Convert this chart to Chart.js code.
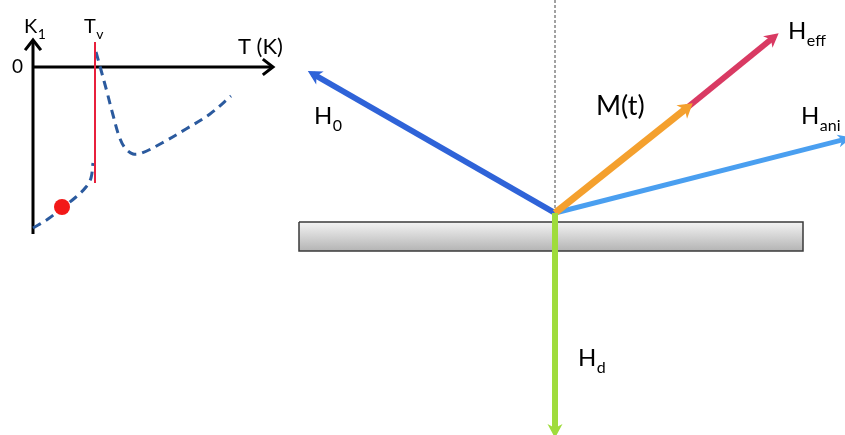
<!DOCTYPE html>
<html>
<head>
<meta charset="utf-8">
<script src="https://cdn.jsdelivr.net/npm/chart.js@4"></script>
<style>
  html, body { margin: 0; padding: 0; background: #fff; }
  #wrap { width: 845px; height: 435px; }
</style>
</head>
<body>
<div id="wrap"><canvas id="diagram" width="845" height="435"></canvas></div>
<script>
// diagram units: same frame as the picture (x right, y down)
const origin = {x: 555, y: 213};
const h0Tip = {x: 313, y: 74};
const mTip = {x: 688, y: 107};
const heffTip = {x: 774, y: 37};
const haniTip = {x: 846, y: 139};
const hdTip = {x: 555, y: 432};
const normalLine = [{x: 555, y: 0}, {x: 555, y: 213}];
const substrate = [{x: 299, y: 222}, {x: 803, y: 222}, {x: 803, y: 251}, {x: 299, y: 251}, {x: 299, y: 222}];

// inset K1(T) sketch
const kAxis = [{x: 33, y: 234}, {x: 33, y: 40}];
const tAxis = [{x: 33, y: 67}, {x: 273, y: 67}];
const tvLine = [{x: 95, y: 42}, {x: 95, y: 183}];
const kBelowTv = [{x: 33, y: 228}, {x: 48, y: 219}, {x: 62, y: 208}, {x: 76, y: 197}, {x: 86, y: 187}, {x: 91, y: 178}, {x: 93, y: 163}];
const kAboveTv = [{x: 96, y: 52}, {x: 101, y: 70}, {x: 107, y: 92}, {x: 113, y: 115}, {x: 119, y: 136}, {x: 125, y: 148}, {x: 133, y: 154}, {x: 142, y: 153}, {x: 162, y: 143}, {x: 186, y: 129}, {x: 210, y: 114}, {x: 231, y: 96}];
const dotPoint = [{x: 62, y: 207}];

// text: [main, sub, x, y, size]
const labels = [
  ["K", "1", 24, 33, 20],
  ["0", "", 12, 73, 19],
  ["T", "v", 84, 33, 20],
  ["T (K)", "", 238, 54, 22],
  ["H", "0", 314, 124, 24],
  ["M(t)", "", 596, 115, 27],
  ["H", "eff", 788, 39, 24],
  ["H", "ani", 801, 124, 24],
  ["H", "d", 578, 366, 24]
];

const FONT = "Lato, 'Open Sans', sans-serif";

function seg(a, b) { return [a, b]; }

function arrowSet(label, pts, color, width, order) {
  return {
    label: label, data: pts, showLine: true, pointRadius: 0,
    borderColor: color, backgroundColor: color, borderWidth: width,
    borderCapStyle: 'butt', order: order, arrow: 'solid'
  };
}

const arrowPlugin = {
  id: 'arrowHeads',
  afterDatasetsDraw(chart) {
    const c = chart.ctx;
    chart.data.datasets.forEach((ds, i) => {
      if (!ds.arrow) return;
      const pts = chart.getDatasetMeta(i).data;
      const a = pts[pts.length - 2], b = pts[pts.length - 1];
      const len = Math.hypot(b.x - a.x, b.y - a.y);
      const ux = (b.x - a.x) / len, uy = (b.y - a.y) / len;
      c.save();
      if (ds.arrow === 'solid') {
        const tx = b.x + ux * 6, ty = b.y + uy * 6;
        const bx = b.x - ux * 8, by = b.y - uy * 8;
        const w = ds.borderWidth + 1.5;
        c.fillStyle = ds.borderColor;
        c.beginPath();
        c.moveTo(tx, ty);
        c.lineTo(bx - uy * w, by + ux * w);
        c.lineTo(b.x - ux * 4, b.y - uy * 4);
        c.lineTo(bx + uy * w, by - ux * w);
        c.closePath();
        c.fill();
      } else {
        c.strokeStyle = ds.borderColor;
        c.lineWidth = ds.borderWidth;
        c.lineCap = 'square';
        c.beginPath();
        c.moveTo(b.x - ux * 9 - uy * 7, b.y - uy * 9 + ux * 7);
        c.lineTo(b.x, b.y);
        c.lineTo(b.x - ux * 9 + uy * 7, b.y - uy * 9 - ux * 7);
        c.stroke();
      }
      c.restore();
    });
  }
};

const textPlugin = {
  id: 'diagramText',
  afterDraw(chart) {
    const c = chart.ctx, sx = chart.scales.x, sy = chart.scales.y;
    c.save();
    c.fillStyle = '#000';
    c.textBaseline = 'alphabetic';
    labels.forEach(([main, sub, x, y, size]) => {
      const px = sx.getPixelForValue(x), py = sy.getPixelForValue(y);
      c.font = size + 'px ' + FONT;
      c.fillText(main, px, py);
      if (sub) {
        const w = c.measureText(main).width;
        c.font = Math.round(size * 0.68) + 'px ' + FONT;
        c.fillText(sub, px + w + 0.5, py + size * 0.3);
      }
    });
    c.restore();
  }
};

new Chart(document.getElementById('diagram'), {
  type: 'scatter',
  data: {
    datasets: [
      arrowSet('Hd', seg(origin, hdTip), '#9fdc3c', 6, 1),
      arrowSet('M(t)', seg(origin, mTip), '#f4a02e', 7, 2),
      arrowSet('Heff', seg(mTip, heffTip), '#d93a63', 6, 3),
      arrowSet('Hani', seg(origin, haniTip), '#4a9ff0', 5, 4),
      arrowSet('H0', seg(origin, h0Tip), '#2f63d8', 6, 5),
      {label: 'dot', data: dotPoint, pointRadius: 8, pointBackgroundColor: '#f21818', pointBorderWidth: 0, order: 6},
      {label: 'Tv', data: tvLine, showLine: true, pointRadius: 0, borderColor: '#e8203c', borderWidth: 2, order: 7},
      {label: 'K1 below', data: kBelowTv, showLine: true, pointRadius: 0, borderColor: '#2b5a9e', borderWidth: 3, borderDash: [9, 6], tension: 0.35, order: 8},
      {label: 'K1 above', data: kAboveTv, showLine: true, pointRadius: 0, borderColor: '#2b5a9e', borderWidth: 3, borderDash: [9, 6], tension: 0.35, order: 8},
      {label: 'K axis', data: kAxis, showLine: true, pointRadius: 0, borderColor: '#000', borderWidth: 3, order: 9, arrow: 'open'},
      {label: 'T axis', data: tAxis, showLine: true, pointRadius: 0, borderColor: '#000', borderWidth: 3, order: 9, arrow: 'open'},
      {label: 'normal', data: normalLine, showLine: true, pointRadius: 0, borderColor: '#444', borderWidth: 1, borderDash: [3, 2], order: 10},
      {
        label: 'substrate', data: substrate, showLine: true, pointRadius: 0, tension: 0,
        borderColor: '#3a3a3a', borderWidth: 1.5, fill: 'shape', order: 11,
        backgroundColor: (ctx) => {
          const chart = ctx.chart;
          if (!chart.chartArea) return '#d8d8d8';
          const top = chart.scales.y.getPixelForValue(substrate[0].y);
          const bot = chart.scales.y.getPixelForValue(substrate[2].y);
          const g = chart.ctx.createLinearGradient(0, top, 0, bot);
          g.addColorStop(0, '#f3f3f3');
          g.addColorStop(1, '#b4b4b4');
          return g;
        }
      }
    ]
  },
  options: {
    responsive: false,
    animation: false,
    devicePixelRatio: 1,
    layout: {padding: 0, autoPadding: false},
    scales: {
      x: {type: 'linear', min: 0, max: 845, display: false},
      y: {type: 'linear', min: 0, max: 435, reverse: true, display: false}
    },
    plugins: {legend: {display: false}, tooltip: {enabled: false}}
  },
  plugins: [arrowPlugin, textPlugin]
});
</script>
</body>
</html>
